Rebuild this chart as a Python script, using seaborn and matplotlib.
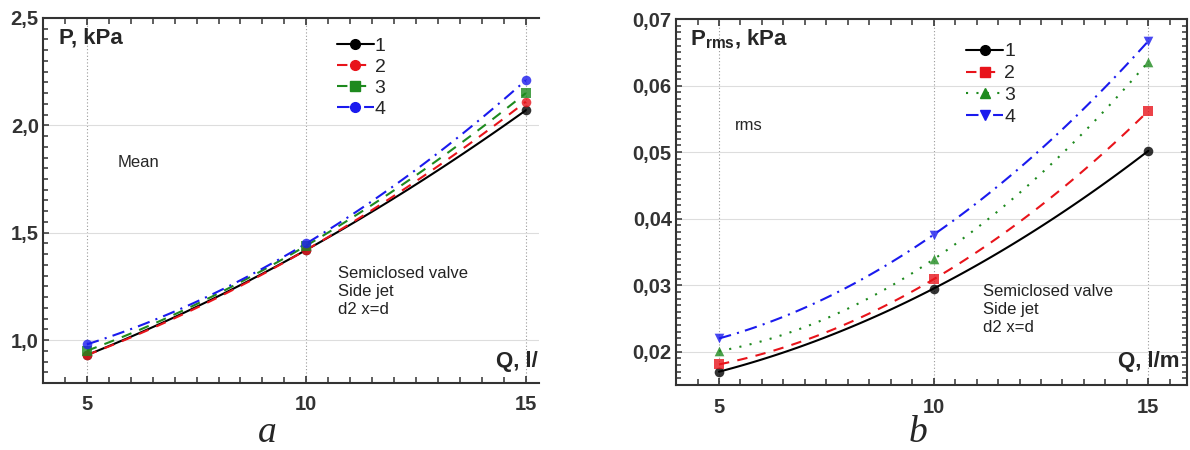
import matplotlib.pyplot as plt
import matplotlib.ticker as mticker
from matplotlib.lines import Line2D
import pandas as pd
import seaborn as sns

# values
flow = [5, 10, 15]
series = ["1", "2", "3", "4"]
mean_p = {
    "1": [0.93, 1.42, 2.07],
    "2": [0.93, 1.42, 2.11],
    "3": [0.95, 1.44, 2.15],
    "4": [0.98, 1.45, 2.21],
}
rms_p = {
    "1": [0.0170, 0.0295, 0.0502],
    "2": [0.0181, 0.0309, 0.0562],
    "3": [0.0201, 0.0339, 0.0636],
    "4": [0.0220, 0.0376, 0.0667],
}
mean_yticks = [1.0, 1.5, 2.0, 2.5]
mean_ylabels = ["1,0", "1,5", "2,0", "2,5"]
rms_yticks = [0.02, 0.03, 0.04, 0.05, 0.06, 0.07]
rms_ylabels = ["0,02", "0,03", "0,04", "0,05", "0,06", "0,07"]
xticks = [5, 10, 15]

colors = {"1": "black", "2": "#e8141b", "3": "#1e8a1e", "4": "#1a1aee"}
mean_styles = {"1": ("-", "o"), "2": ((0, (5, 4)), "o"), "3": ((0, (5, 4)), "s"), "4": ((0, (6, 3, 1, 3)), "o")}
rms_styles = {"1": ("-", "o"), "2": ((0, (5, 4)), "s"), "3": ((0, (1, 4)), "^"), "4": ((0, (6, 3, 1, 3)), "v")}

sns.set_style("white")
plt.rcParams["font.family"] = ["Liberation Sans", "DejaVu Sans"]
plt.rcParams.update({
    "xtick.bottom": True, "xtick.top": True, "xtick.direction": "in",
    "xtick.major.size": 5, "xtick.minor.size": 4, "xtick.minor.width": 1.1,
    "xtick.major.width": 1.2, "xtick.color": "#333333",
    "ytick.left": True, "ytick.direction": "in", "ytick.color": "#333333",
    "ytick.major.size": 4, "ytick.minor.size": 3.5,
    "ytick.minor.width": 1.1, "ytick.major.width": 1.1,
})


def to_frame(vals):
    rows = []
    for s in series:
        for q, p in zip(flow, vals[s]):
            rows.append({"Q": q, "P": p, "curve": s})
    return pd.DataFrame(rows)


fig = plt.figure(figsize=(11.9, 4.5), dpi=100)
ax1 = fig.add_axes([0.0361, 0.1489, 0.4168, 0.8111])
ax2 = fig.add_axes([0.5681, 0.1444, 0.4294, 0.8133])


def draw(ax, df, styles, yticks, ylabels, ylim, xlim, yminor):
    handles = []
    for s in series:
        d = df[df.curve == s]
        ls, mk = styles[s]
        sns.regplot(
            data=d, x="Q", y="P", order=2, ci=None, ax=ax, marker=mk,
            color=colors[s],
            scatter_kws={"s": 48, "zorder": 4, "linewidths": 0},
            line_kws={"linestyle": ls, "linewidth": 1.5},
        )
        handles.append(Line2D([], [], color=colors[s], linestyle=ls, marker=mk,
                              markersize=7, linewidth=1.5, label=s))
    ax.set_xlim(*xlim)
    ax.set_ylim(*ylim)
    ax.set_xticks(xticks)
    ax.set_xticklabels([str(x) for x in xticks], fontsize=14.5, fontweight="bold")
    ax.set_yticks(yticks)
    ax.set_yticklabels(ylabels, fontsize=14.5, fontweight="bold")
    ax.xaxis.set_minor_locator(mticker.MultipleLocator(0.5))
    ax.yaxis.set_minor_locator(mticker.MultipleLocator(yminor))
    ax.tick_params(axis="x", which="major", pad=9)
    ax.tick_params(axis="y", which="major", pad=3)
    ax.set_xlabel("")
    ax.set_ylabel("")
    ax.grid(axis="y", color="#dddddd", linewidth=0.8)
    for x in xticks:
        ax.axvline(x, color="#999999", linestyle=(0, (1, 2)), linewidth=0.8, zorder=0)
    for sp in ax.spines.values():
        sp.set_color("#333333")
        sp.set_linewidth(1.5)
    return handles


h1 = draw(ax1, to_frame(mean_p), mean_styles, mean_yticks, mean_ylabels,
          (0.8, 2.5), (4.0, 15.3), 0.05)
ax1.legend(handles=h1, frameon=False, fontsize=14, handlelength=1.9,
           handletextpad=0.05, labelspacing=0.17, borderaxespad=0, borderpad=0,
           loc="upper left", bbox_to_anchor=(0.592, 0.947))
ax1.spines["right"].set_visible(False)

h2 = draw(ax2, to_frame(rms_p), rms_styles, rms_yticks, rms_ylabels,
          (0.015, 0.07), (4.0, 15.9), 0.001)
ax2.legend(handles=h2, frameon=False, fontsize=14, handlelength=1.9,
           handletextpad=0.05, labelspacing=0.22, borderaxespad=0, borderpad=0,
           loc="upper left", bbox_to_anchor=(0.568, 0.935))
ax2.tick_params(axis="y", which="both", right=True)

# in-plot labels
ax1.text(0.032, 0.945, "P, kPa", transform=ax1.transAxes, fontsize=16,
         fontweight="bold", va="center")
ax1.text(0.15, 0.605, "Mean", transform=ax1.transAxes, fontsize=12, va="center")
ax1.text(0.595, 0.25, "Semiclosed valve\nSide jet\nd2 x=d", transform=ax1.transAxes,
         fontsize=12, va="center", color="#222222", linespacing=1.25)
ax1.text(0.913, 0.058, "Q, l/m", transform=ax1.transAxes, fontsize=16,
         fontweight="bold", va="center", clip_on=True)

ax2.text(0.027, 0.945, r"P$_{\mathregular{rms}}$, kPa", transform=ax2.transAxes,
         fontsize=16, fontweight="bold", va="center")
ax2.text(0.115, 0.71, "rms", transform=ax2.transAxes, fontsize=12, va="center")
ax2.text(0.6, 0.205, "Semiclosed valve\nSide jet\nd2 x=d", transform=ax2.transAxes,
         fontsize=12, va="center", color="#222222", linespacing=1.25)
ax2.text(0.986, 0.063, "Q, l/m", transform=ax2.transAxes, fontsize=16,
         fontweight="bold", va="center", ha="right")

# panel letters
fig.text(0.2244, 0.0, "a", fontsize=27, style="italic", family="Liberation Serif",
         ha="center", va="bottom")
fig.text(0.771, 0.0, "b", fontsize=27, style="italic", family="Liberation Serif",
         ha="center", va="bottom")

fig.savefig("out.png", dpi=100)
